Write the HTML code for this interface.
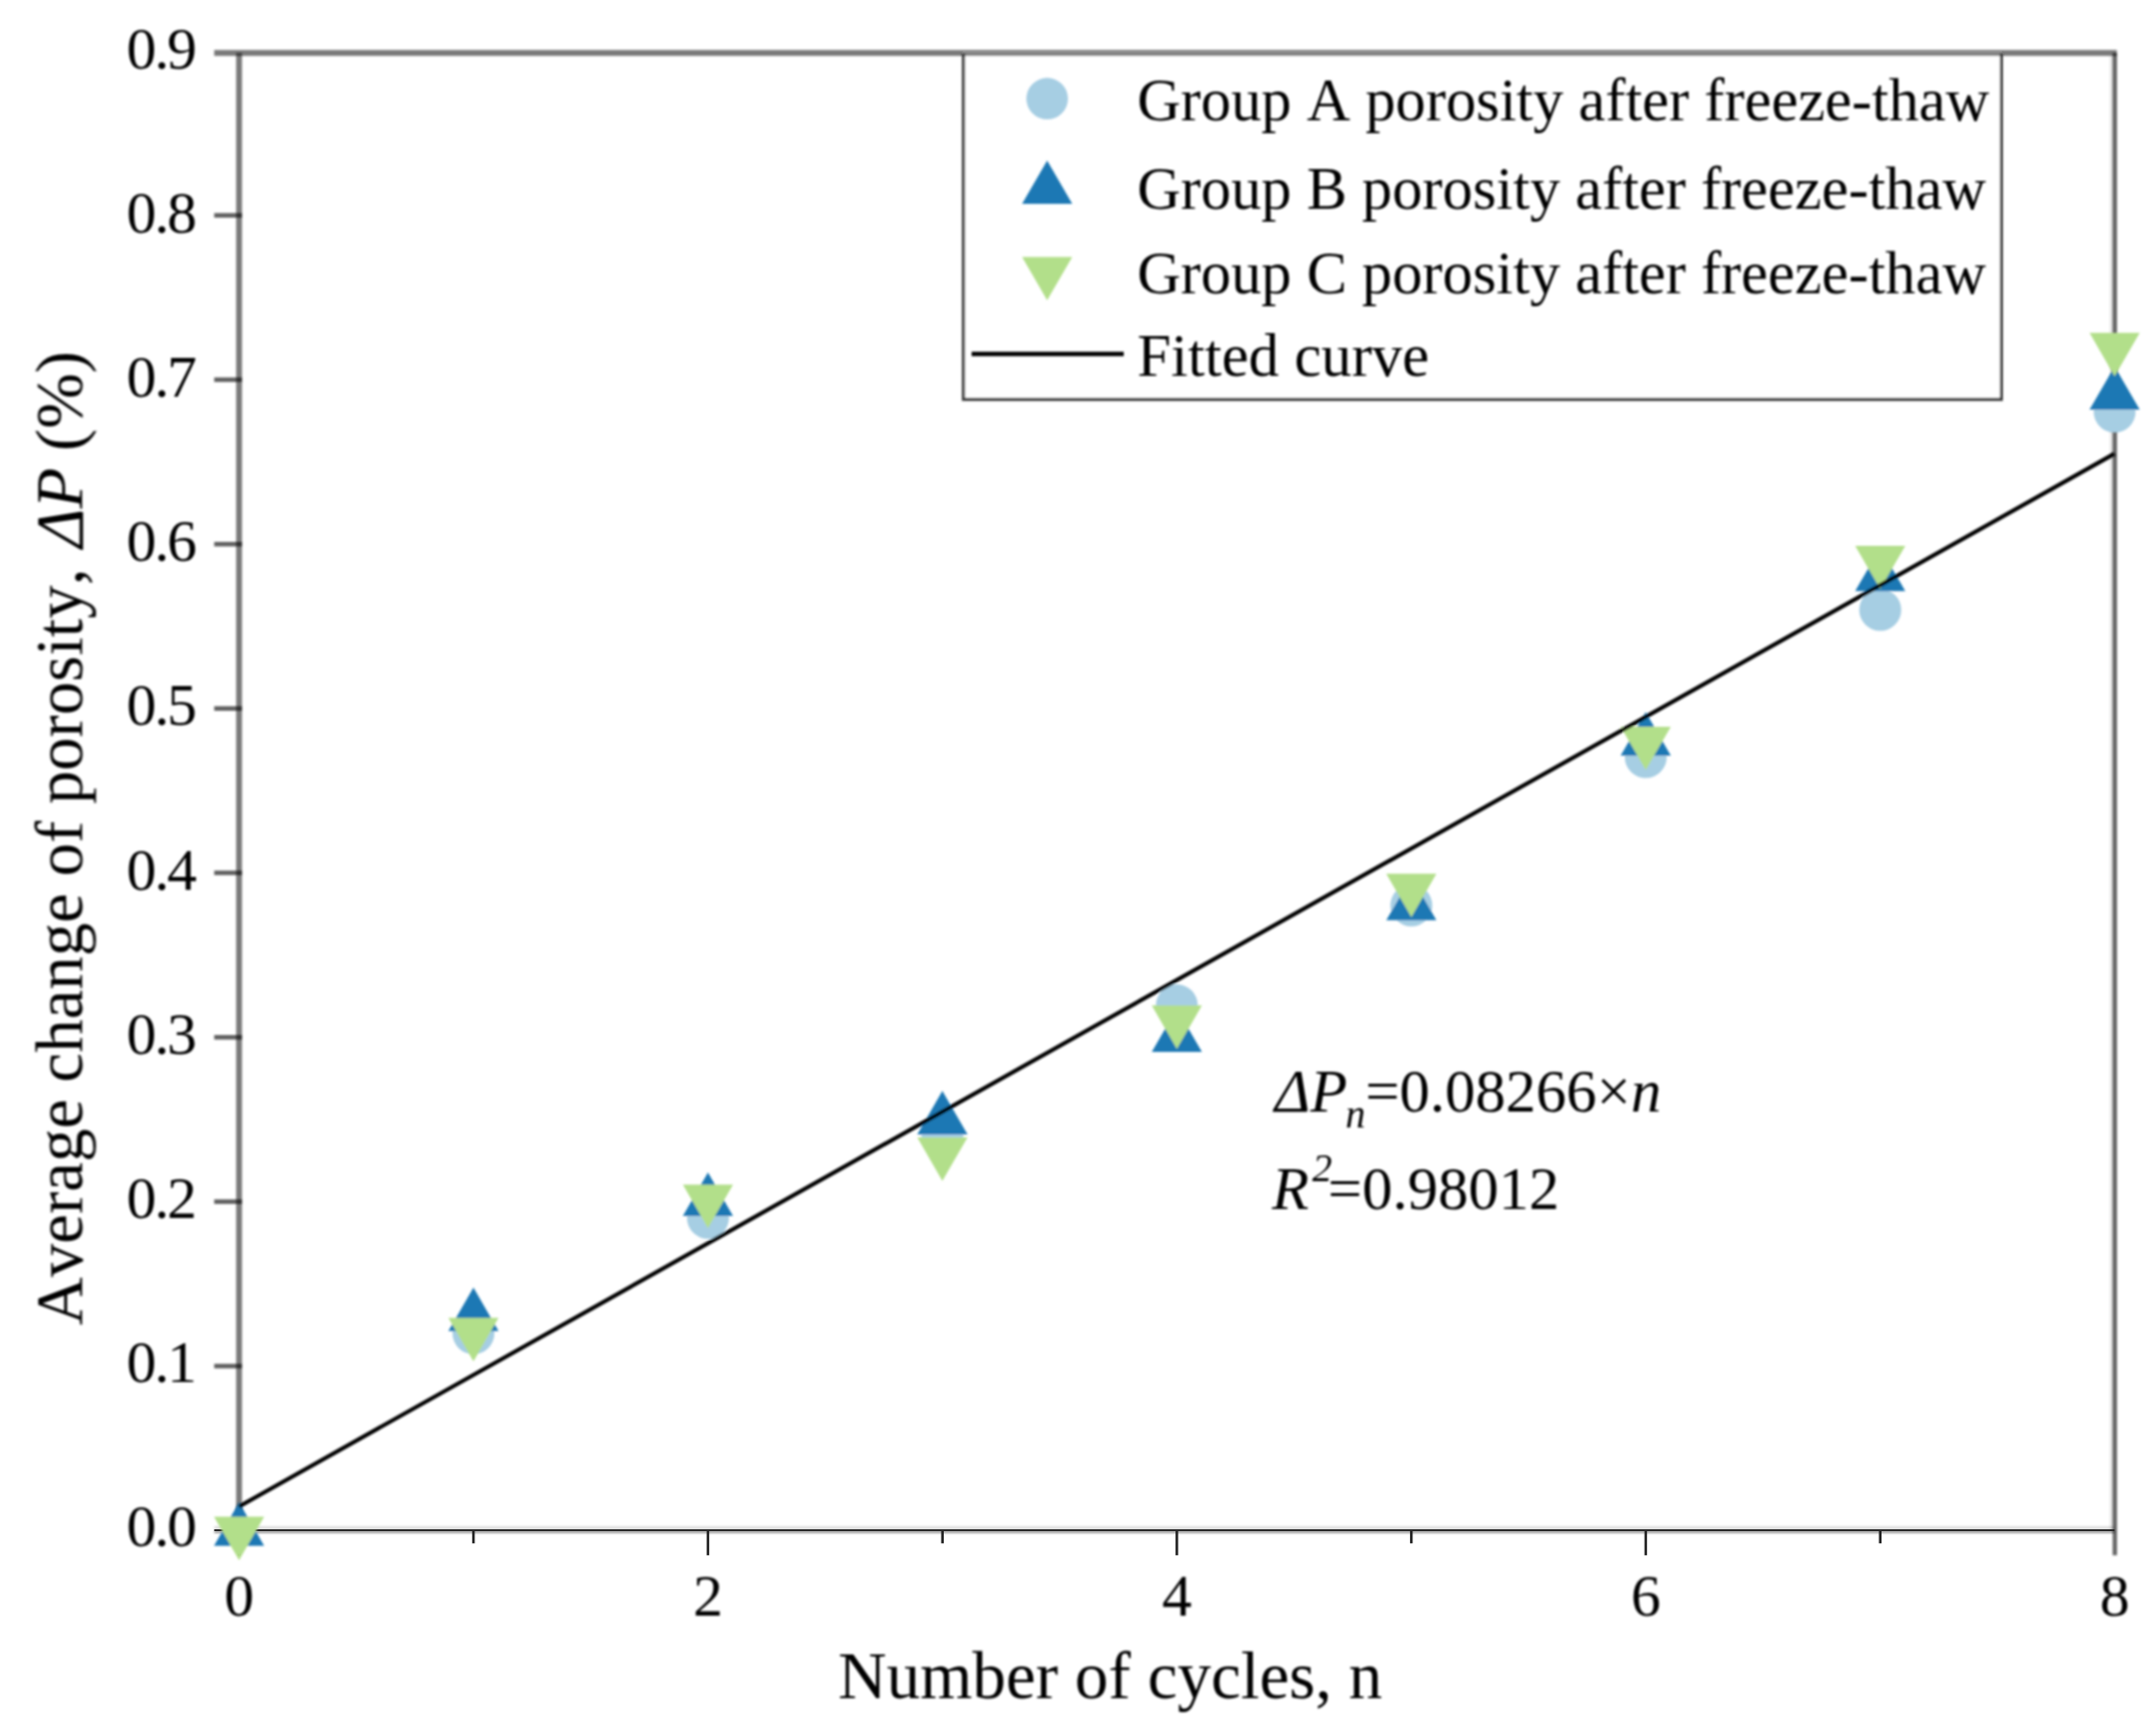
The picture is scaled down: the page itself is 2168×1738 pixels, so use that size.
<!DOCTYPE html>
<html lang="en"><head><meta charset="utf-8"><title>Average change of porosity vs number of cycles</title>
<style>
html,body{margin:0;padding:0;background:#fff;}
body{width:2168px;height:1738px;overflow:hidden;}
svg{display:block;}
text{font-family:"Liberation Serif",serif;fill:#000;font-kerning:none;}
.tk{font-size:60px;}
.ytk{font-size:60px;letter-spacing:-2.1px;}
.lg{font-size:60.75px;}
.lg2{font-size:61.15px;}
.ti{font-size:67.5px;}
.an{font-size:61px;}
.it{font-style:italic;}
</style></head><body>
<svg width="2168" height="1738" viewBox="0 0 2168 1738">
<defs><filter id="soft" x="0" y="0" width="2168" height="1738" filterUnits="userSpaceOnUse"><feGaussianBlur stdDeviation="0.8"/></filter><filter id="crisp" x="0" y="0" width="2168" height="1738" filterUnits="userSpaceOnUse"><feGaussianBlur stdDeviation="0.45"/></filter></defs>
<rect width="2168" height="1738" fill="#fff"/>
<g filter="url(#soft)">

<rect x="968.8" y="53.3" width="1043.7" height="348.3" fill="#fff"/>
<polyline points="968.8,54.3 968.8,401.6 2012.5,401.6 2012.5,54.3" fill="none" stroke="#3a3a3a" stroke-width="3.1"/>
<g stroke="#000" stroke-opacity="0.52" stroke-width="5.9" fill="none">
<line x1="215.4" y1="53.3" x2="2128.6" y2="53.3"/>
<line x1="240.4" y1="53.3" x2="240.4" y2="1539.3"/>
</g>
<g stroke="#000" stroke-opacity="0.62" stroke-width="4.6" fill="none">
<line x1="215.4" y1="1374.0" x2="243.35" y2="1374.0"/>
<line x1="215.4" y1="1208.6" x2="243.35" y2="1208.6"/>
<line x1="215.4" y1="1043.3" x2="243.35" y2="1043.3"/>
<line x1="215.4" y1="877.9" x2="243.35" y2="877.9"/>
<line x1="215.4" y1="712.6" x2="243.35" y2="712.6"/>
<line x1="215.4" y1="547.3" x2="243.35" y2="547.3"/>
<line x1="215.4" y1="381.9" x2="243.35" y2="381.9"/>
<line x1="215.4" y1="216.6" x2="243.35" y2="216.6"/>
</g>
<rect x="2121.6" y="55.8" width="3.2" height="1483.5" fill="#000" fill-opacity="0.10"/>
<rect x="2124.4" y="53.3" width="4.4" height="1511.0" fill="#000" fill-opacity="0.60"/>
<rect x="215.4" y="1535.0" width="1911.0" height="3.3" fill="#000" fill-opacity="0.13"/>
<rect x="215.4" y="1540.0" width="1911.0" height="1.8" fill="#000" fill-opacity="0.5"/>
</g><g filter="url(#crisp)">
<rect x="215.4" y="1538.15" width="1911.0" height="1.9" fill="#242424"/>
<rect x="239.1" y="1539" width="2.6" height="25.3" fill="#242424"/>
<rect x="474.8" y="1539" width="2.6" height="13.3" fill="#242424"/>
<rect x="710.6" y="1539" width="2.6" height="25.3" fill="#242424"/>
<rect x="946.4" y="1539" width="2.6" height="13.3" fill="#242424"/>
<rect x="1182.1" y="1539" width="2.6" height="25.3" fill="#242424"/>
<rect x="1417.9" y="1539" width="2.6" height="13.3" fill="#242424"/>
<rect x="1653.6" y="1539" width="2.6" height="25.3" fill="#242424"/>
<rect x="1889.4" y="1539" width="2.6" height="13.3" fill="#242424"/>
</g><g filter="url(#soft)">
<text class="ytk" x="196.0" y="1555.0" text-anchor="end">0.0</text>
<text class="ytk" x="196.0" y="1389.9" text-anchor="end">0.1</text>
<text class="ytk" x="196.0" y="1224.8" text-anchor="end">0.2</text>
<text class="ytk" x="196.0" y="1059.6" text-anchor="end">0.3</text>
<text class="ytk" x="196.0" y="894.5" text-anchor="end">0.4</text>
<text class="ytk" x="196.0" y="729.4" text-anchor="end">0.5</text>
<text class="ytk" x="196.0" y="564.3" text-anchor="end">0.6</text>
<text class="ytk" x="196.0" y="399.2" text-anchor="end">0.7</text>
<text class="ytk" x="196.0" y="234.0" text-anchor="end">0.8</text>
<text class="ytk" x="196.0" y="68.9" text-anchor="end">0.9</text>
<text class="tk" x="240.4" y="1625.3" text-anchor="middle">0</text>
<text class="tk" x="711.9" y="1625.3" text-anchor="middle">2</text>
<text class="tk" x="1183.4" y="1625.3" text-anchor="middle">4</text>
<text class="tk" x="1654.9" y="1625.3" text-anchor="middle">6</text>
<text class="tk" x="2126.4" y="1625.3" text-anchor="middle">8</text>
<text class="ti" x="842.8" y="1707.5">Number of cycles, n</text>
<text class="ti" transform="translate(82.5,1333) rotate(-90)" style="font-size:67.2px">Average change of porosity, <tspan class="it" dx="4">ΔP</tspan> (%)</text>
<circle cx="1053.0" cy="99.2" r="20.9" fill="#a6cee3"/>
<polygon points="1053.0,161.4 1078.2,205.1 1027.8,205.1" fill="#1f78b4"/>
<polygon points="1053.0,302.1 1078.2,258.4 1027.8,258.4" fill="#b2df8a"/>
<line x1="977" y1="356" x2="1130" y2="356" stroke="#000" stroke-width="4.4"/>
<text class="lg" x="1143.5" y="121">Group A porosity after freeze-thaw</text>
<text class="lg" x="1143.5" y="210.4">Group B porosity after freeze-thaw</text>
<text class="lg" x="1143.5" y="295">Group C porosity after freeze-thaw</text>
<text class="lg2" x="1143.5" y="377.7">Fitted curve</text>
<circle cx="476.1" cy="1341.0" r="21.1" fill="#a6cee3"/>
<circle cx="711.9" cy="1224.9" r="21.1" fill="#a6cee3"/>
<circle cx="947.6" cy="1142.5" r="21.1" fill="#a6cee3"/>
<circle cx="1183.4" cy="1011.2" r="21.1" fill="#a6cee3"/>
<circle cx="1419.2" cy="910.7" r="21.1" fill="#a6cee3"/>
<circle cx="1654.9" cy="761.4" r="21.1" fill="#a6cee3"/>
<circle cx="1890.7" cy="613.4" r="21.1" fill="#a6cee3"/>
<circle cx="2126.4" cy="414.0" r="21.1" fill="#a6cee3"/>
<polygon points="240.4,1511.1 265.6,1554.8 215.2,1554.8" fill="#1f78b4"/>
<polygon points="476.1,1295.0 501.3,1338.7 450.9,1338.7" fill="#1f78b4"/>
<polygon points="711.9,1179.3 737.1,1223.0 686.7,1223.0" fill="#1f78b4"/>
<polygon points="947.6,1097.3 972.9,1141.0 922.4,1141.0" fill="#1f78b4"/>
<polygon points="1183.4,1014.4 1208.6,1058.1 1158.2,1058.1" fill="#1f78b4"/>
<polygon points="1419.2,881.9 1444.4,925.6 1394.0,925.6" fill="#1f78b4"/>
<polygon points="1654.9,716.3 1680.1,760.0 1629.7,760.0" fill="#1f78b4"/>
<polygon points="1890.7,550.9 1915.9,594.6 1865.5,594.6" fill="#1f78b4"/>
<polygon points="2126.4,368.4 2151.6,412.1 2101.2,412.1" fill="#1f78b4"/>
<polygon points="240.4,1569.3 265.6,1525.6 215.2,1525.6" fill="#b2df8a"/>
<polygon points="476.1,1369.3 501.3,1325.6 450.9,1325.6" fill="#b2df8a"/>
<polygon points="711.9,1235.3 737.1,1191.6 686.7,1191.6" fill="#b2df8a"/>
<polygon points="947.6,1187.7 972.9,1144.0 922.4,1144.0" fill="#b2df8a"/>
<polygon points="1183.4,1055.0 1208.6,1011.3 1158.2,1011.3" fill="#b2df8a"/>
<polygon points="1419.2,922.5 1444.4,878.8 1394.0,878.8" fill="#b2df8a"/>
<polygon points="1654.9,774.6 1680.1,730.9 1629.7,730.9" fill="#b2df8a"/>
<polygon points="1890.7,592.6 1915.9,548.9 1865.5,548.9" fill="#b2df8a"/>
<polygon points="2126.4,378.4 2151.6,334.7 2101.2,334.7" fill="#b2df8a"/>
<line x1="240.4" y1="1515.2" x2="2126.2" y2="456.4" stroke="#000" stroke-width="4.1"/>
<text class="an" y="1117.5"><tspan class="it" x="1281.8">ΔP</tspan><tspan class="it" font-size="40" dy="16" dx="-2">n</tspan><tspan dy="-16">=0.08266×</tspan><tspan class="it">n</tspan></text>
<text class="an" y="1216"><tspan class="it" x="1278.9">R</tspan><tspan class="it" font-size="40" dy="-28" dx="3.4">2</tspan><tspan dy="28" dx="-4.2">=0.98012</tspan></text>
</g>
</svg></body></html>
